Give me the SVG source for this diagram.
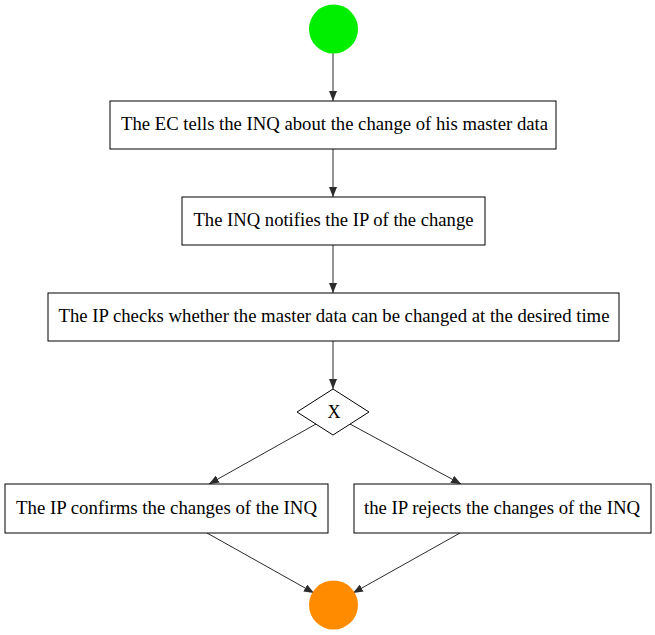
<svg xmlns="http://www.w3.org/2000/svg" width="655" height="635" viewBox="0 0 655 635">
<defs>
<marker id="ah" markerWidth="10" markerHeight="8" refX="10" refY="4" orient="auto" markerUnits="userSpaceOnUse">
<polygon points="0,0 10,4 0,8" fill="#2b2b2b"/>
</marker>
<style>
.box{fill:#fff;stroke:#000;stroke-width:1}
.t{font-family:"Liberation Serif","Times New Roman",serif;font-size:18px;fill:#000;text-anchor:middle}
.e{fill:none;stroke:#2b2b2b;stroke-width:1;marker-end:url(#ah)}
</style>
</defs>
<rect width="655" height="635" fill="#fff"/>
<g id="connectors">
<line class="e" x1="333" y1="53" x2="333" y2="101"/>
<line class="e" x1="333" y1="149" x2="333" y2="197"/>
<line class="e" x1="333" y1="245" x2="333" y2="293"/>
<line class="e" x1="333" y1="341" x2="333" y2="389"/>
<line class="e" x1="316" y1="424" x2="209" y2="484"/>
<line class="e" x1="350" y1="424" x2="461" y2="484"/>
<line class="e" x1="207" y1="533" x2="314" y2="593"/>
<line class="e" x1="460" y1="533" x2="353" y2="593"/>
</g>
<g id="start"><circle cx="333.5" cy="29" r="24.5" fill="#00ee00"/></g>
<g id="n1"><rect class="box" x="110" y="101" width="446" height="48"/><text class="t" x="334.5" y="130" textLength="427" lengthAdjust="spacingAndGlyphs">The EC tells the INQ about the change of his master data</text></g>
<g id="n2"><rect class="box" x="182" y="197" width="303" height="48"/><text class="t" x="333.5" y="226" textLength="280" lengthAdjust="spacingAndGlyphs">The INQ notifies the IP of the change</text></g>
<g id="n3"><rect class="box" x="48" y="293" width="571" height="48"/><text class="t" x="334" y="322" textLength="551" lengthAdjust="spacingAndGlyphs">The IP checks whether the master data can be changed at the desired time</text></g>
<g id="gw"><polygon class="box" points="333,389 369,412 333,435 297,412"/><text class="t" x="334" y="418">X</text></g>
<g id="n4"><rect class="box" x="5" y="484" width="323" height="49"/><text class="t" x="166.5" y="514" textLength="301" lengthAdjust="spacingAndGlyphs">The IP confirms the changes of the INQ</text></g>
<g id="n5"><rect class="box" x="354" y="484" width="297" height="49"/><text class="t" x="502" y="514" textLength="276" lengthAdjust="spacingAndGlyphs">the IP rejects the changes of the INQ</text></g>
<g id="end"><circle cx="333.5" cy="605" r="24.5" fill="#ff8c00"/></g>
</svg>
